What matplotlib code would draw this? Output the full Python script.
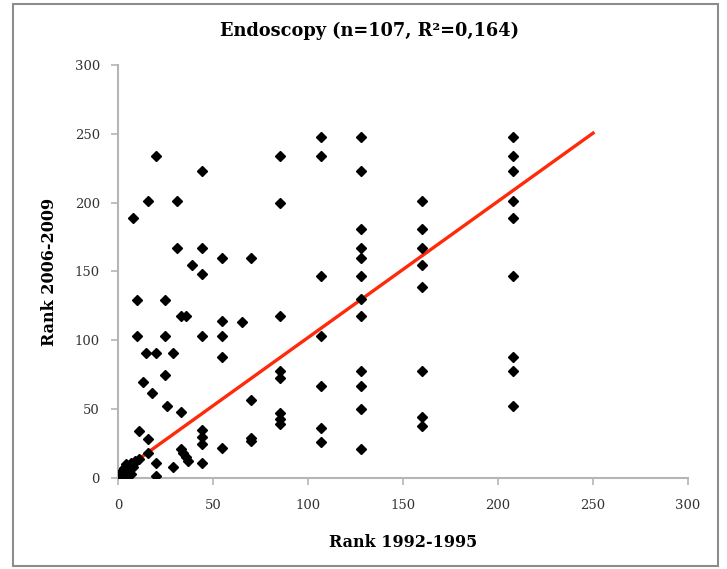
import numpy as np
import matplotlib
matplotlib.use('Agg')
import matplotlib.pyplot as plt
from matplotlib.patches import Rectangle

# Rangos 1992-1995 (x) y 2006-2009 (y)
rank_1992 = [208, 208, 208, 208, 208, 208, 208, 208, 208,
             160, 160, 160, 160, 160, 160, 160, 160,
             128, 128, 128, 128, 128, 128, 128, 128, 128, 128, 128, 128,
             107, 107, 107, 107, 107, 107, 107,
             85, 85, 85, 85, 85, 85, 85, 85,
             70, 70, 70, 70,
             65,
             55, 55, 55, 55, 55,
             44, 44, 44, 44, 44, 44, 44, 44,
             39, 36, 36, 33, 33, 33, 34, 37,
             31, 31, 29, 29, 26,
             25, 25, 25,
             20, 20, 20, 20,
             18, 16, 16, 16, 15, 13, 11, 10, 10, 8,
             1, 2, 3, 3, 4, 5, 5, 6, 7, 7, 8, 9, 2, 4, 6, 11, 8]
rank_2006 = [248, 234, 223, 201, 189, 147, 88, 78, 52,
             201, 181, 167, 155, 139, 78, 44, 38,
             248, 223, 181, 167, 160, 147, 130, 118, 78, 67, 50, 21,
             248, 234, 147, 103, 67, 36, 26,
             234, 200, 118, 78, 73, 47, 43, 39,
             160, 57, 29, 27,
             113,
             160, 114, 103, 88, 22,
             223, 167, 148, 103, 35, 30, 25, 11,
             155, 118, 15, 118, 48, 21, 18, 12,
             201, 167, 91, 8, 52,
             129, 103, 75,
             234, 91, 11, 1.5,
             62, 201, 28, 18, 91, 70, 34, 129, 103, 189,
             3, 5, 2, 7, 4, 1, 9, 6, 3, 11, 8, 12, 1, 10, 2, 14, 10]

# linea de tendencia
tend_x = [4, 250]
pendiente = 0.99
intercepto = 3

fig = plt.figure(figsize=(7.27, 5.69), dpi=100)
ax = fig.add_axes([0.1623, 0.1599, 0.7841, 0.7259])

ax.plot(rank_1992, rank_2006, linestyle='none', marker='D', markersize=5.5,
        color='black', zorder=3)
tx = np.array(tend_x)
ax.plot(tx, intercepto + pendiente * tx, color='#ff2a0a', linewidth=2.4, zorder=2)

ax.set_xlim(0, 300)
ax.set_ylim(0, 300)
ax.set_xticks(range(0, 301, 50))
ax.set_yticks(range(0, 301, 50))

fuente = 'DejaVu Serif'
for lab in ax.get_xticklabels() + ax.get_yticklabels():
    lab.set_fontfamily(fuente)
    lab.set_fontsize(9.5)

ax.spines['top'].set_visible(False)
ax.spines['right'].set_visible(False)
for s in ['left', 'bottom']:
    ax.spines[s].set_color('#b5b5b5')
    ax.spines[s].set_linewidth(1.5)
ax.tick_params(axis='both', direction='out', length=5, color='#b5b5b5', width=1.2,
               colors='#333333')
ax.tick_params(axis='x', pad=10)
ax.tick_params(axis='y', pad=8)

ax.set_xlabel('Rank 1992-1995', fontfamily=fuente, fontsize=11.5, fontweight='bold',
              labelpad=16)
ax.set_ylabel('Rank 2006-2009', fontfamily=fuente, fontsize=11.5, fontweight='bold',
              labelpad=12)
fig.text(0.508, 0.945, 'Endoscopy (n=107, R²=0,164)', ha='center', va='center',
         fontfamily=fuente, fontsize=12.8, fontweight='bold')

# marco exterior
fig.patches.append(Rectangle((0.018, 0.006), 0.969, 0.987, transform=fig.transFigure,
                             fill=False, edgecolor='#8c8c8c', linewidth=1.5))

fig.savefig('out.png', dpi=100)
